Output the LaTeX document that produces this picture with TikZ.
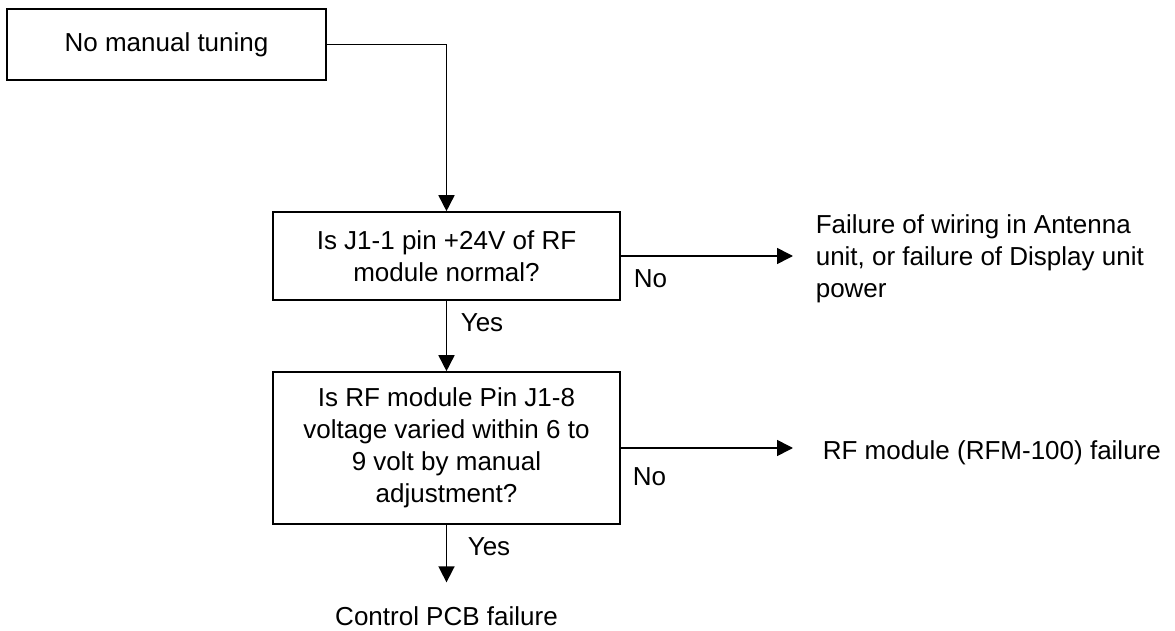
\documentclass[tikz,border=0pt]{standalone}
\usepackage{fontspec}
\setmainfont{Liberation Sans}
\usetikzlibrary{arrows.meta}
\begin{document}
\begin{tikzpicture}[x=1bp,y=-1bp,
  font=\fontsize{26bp}{32bp}\selectfont,
  line width=1.6bp,
  box/.style={draw, line width=1.6bp, align=center, inner sep=0pt},
  arr/.style={-{Triangle[length=16bp,width=16bp]}},
  lbl/.style={inner sep=0pt, anchor=base west}]
\useasboundingbox (0,0) rectangle (1175,631);
\node[box, minimum width=319bp, minimum height=71bp] (b1) at (166.5,44.5) {No manual tuning};
\node[box, minimum width=347bp, minimum height=88bp] (b2) at (446.5,256) {Is J1-1 pin +24V of RF\\module normal?};
\node[box, minimum width=347bp, minimum height=152bp] (b3) at (446.5,448) {Is RF module Pin J1-8\\voltage varied within 6 to\\9 volt by manual\\adjustment?};
\node[inner sep=0pt, anchor=north west, align=left] (f1) at (815,214) {Failure of wiring in Antenna\\unit, or failure of Display unit\\power};
\node[lbl] (f2) at (822,459) {RF module (RFM-100) failure};
\node[inner sep=0pt, anchor=base] (f3) at (446.5,625) {Control PCB failure};
\node[lbl] (n1) at (633,288) {No};
\node[lbl] (y1) at (460,332) {Yes};
\node[lbl] (n2) at (632,485) {No};
\node[lbl] (y2) at (467,555) {Yes};
\draw[arr] (b1.east) -| (b2.north);
\draw[arr, shorten >=22bp] (b2.east) -- (b2.east -| f1.west);
\draw[arr] (b2.south) -- (b3.north);
\draw[arr, shorten >=29bp] (b3.east) -- (b3.east -| f2.west);
\draw[arr, shorten >=23bp] (b3.south) -- (f3.north);
\end{tikzpicture}
\end{document}
